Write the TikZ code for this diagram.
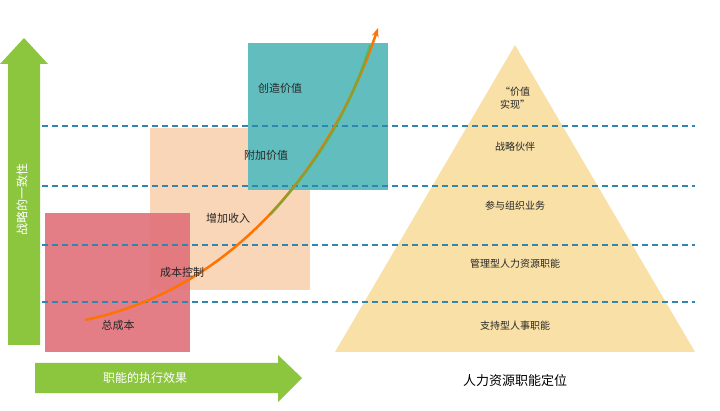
\documentclass[tikz,border=0pt]{standalone}
\usepackage{fontspec}
\setmainfont{Noto Sans CJK SC}
\usetikzlibrary{arrows.meta}
\definecolor{gr}{HTML}{8CC63F}
\definecolor{dashc}{HTML}{2F86B0}
\begin{document}
\begin{tikzpicture}[x=1pt,y=-1pt,
 lbl/.style={font=\fontsize{11}{13}\selectfont,text=black!85},
 plbl/.style={font=\fontsize{10}{12.5}\selectfont,text=black!85,align=center}]
\useasboundingbox (0,0) rectangle (720,411);
\fill[white] (0,0) rectangle (720,411);
% pyramid
\fill[fill={rgb,255:red,248;green,224;blue,166}] (335,352) -- (515,45) -- (695,352) -- cycle;
% rects
\fill[fill={rgb,255:red,250;green,214;blue,184}] (150,128) rectangle (310,290);
\fill[fill={rgb,255:red,224;green,112;blue,122},opacity=0.9] (45,213) rectangle (190,352);
\fill[fill={rgb,255:red,98;green,190;blue,190}] (248,43) rectangle (388,190);
% dashed lines
\foreach \y in {126,186,245,302} \draw[dashc,line width=1.1pt,dash pattern=on 6pt off 4pt] (42,\y) -- (695,\y);
% curve
\coordinate (c0) at (85,320); \coordinate (c1) at (378,28);
\draw[line width=2.5pt,orange!90!red,-{Stealth[length=9pt]}] (c0) .. controls (230,290) and (330,170) .. (c1);
\draw[line width=2.5pt,green!45!gray,opacity=0.6] (270,215) .. controls (320,160) and (350,110) .. (370,45);
% arrows
\fill[gr] (8,345) -- (8,64) -- (0,64) -- (24,38) -- (48,64) -- (40,64) -- (40,345) -- cycle;
\node[rotate=90,text=white,font=\fontsize{12}{14}\selectfont] (vt) at (22,200) {战略的一致性};
\fill[gr] (35,363) -- (278,363) -- (278,355) -- (302,378) -- (278,402) -- (278,393) -- (35,393) -- cycle;
\node[text=white,font=\fontsize{12}{14}\selectfont] (ht) at (145,378) {职能的执行效果};
% labels
\node[lbl] (l1) at (118,325) {总成本};
\node[lbl] (l2) at (182,272) {成本控制};
\node[lbl] (l3) at (228,218) {增加收入};
\node[lbl] (l4) at (266,155) {附加价值};
\node[lbl] (l5) at (280,88) {创造价值};
\node[plbl] (p1) at (515,98) {“价值\\实现”};
\node[plbl] (p2) at (515,147) {战略伙伴};
\node[plbl] (p3) at (515,206) {参与组织业务};
\node[plbl] (p4) at (515,264) {管理型人力资源职能};
\node[plbl] (p5) at (515,326) {支持型人事职能};
\node[font=\fontsize{13}{15}\selectfont] (t) at (515,381) {人力资源职能定位};
\end{tikzpicture}
\end{document}
